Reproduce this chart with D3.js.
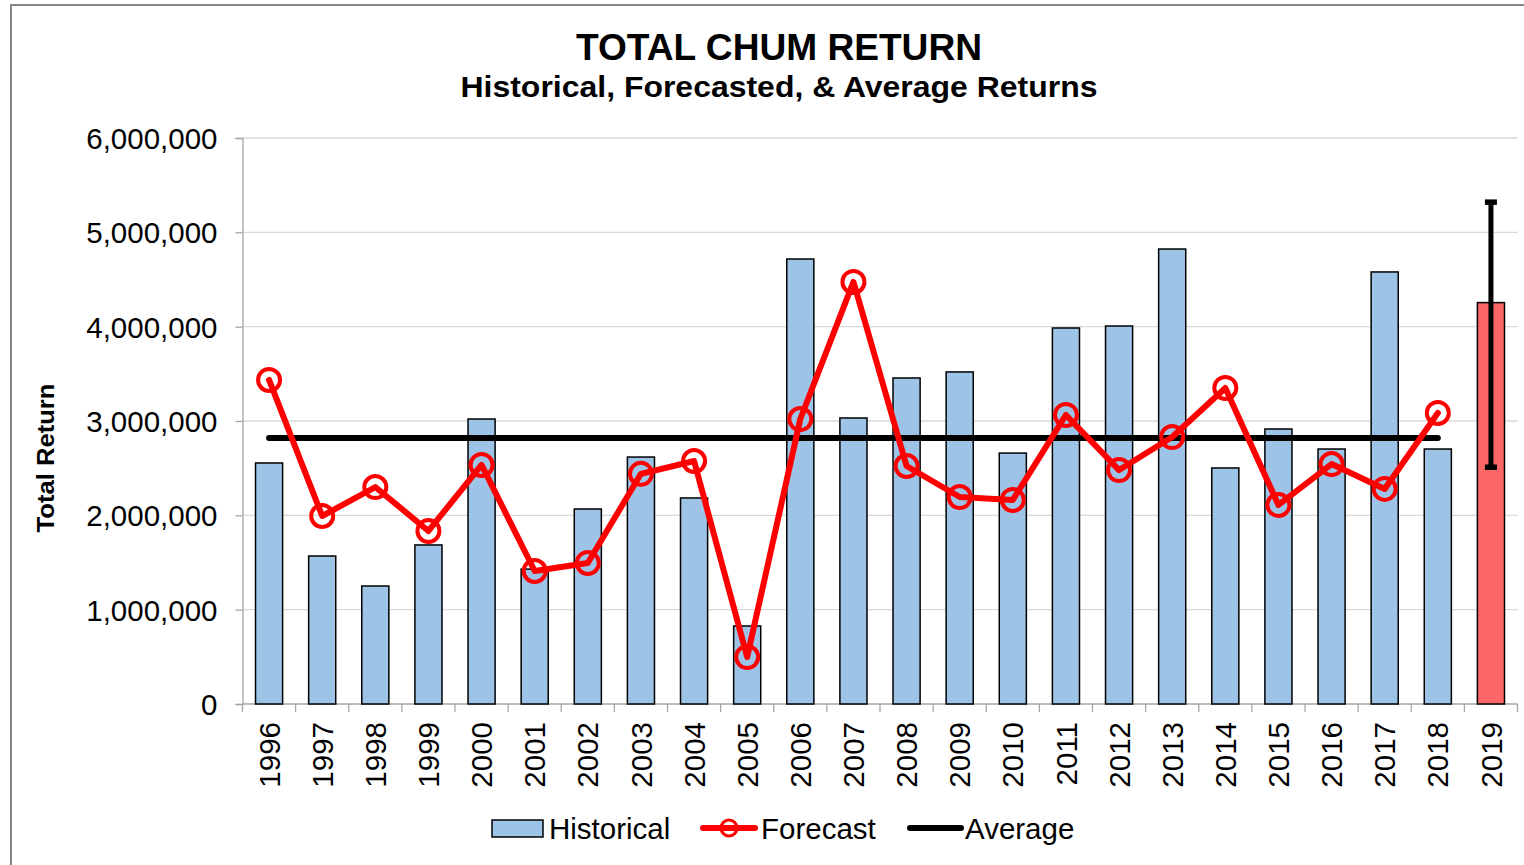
<!DOCTYPE html>
<html>
<head>
<meta charset="utf-8">
<script src="https://cdn.jsdelivr.net/npm/d3@7/dist/d3.min.js"></script>
<style>
html,body{margin:0;padding:0;background:#fff;}
svg{display:block;font-family:"Liberation Sans",Arial,sans-serif;}
</style>
</head>
<body>
<svg id="chart" width="1524" height="865"></svg>
<script>
const years = ["1996","1997","1998","1999","2000","2001","2002","2003","2004","2005","2006","2007","2008","2009","2010","2011","2012","2013","2014","2015","2016","2017","2018","2019"];
const historical = [2555000,1569000,1251000,1686000,3021000,1430000,2067000,2618000,2184000,827000,4717000,3032000,3456000,3520000,2660000,3986000,4007000,4823000,2502000,2915000,2703000,4580000,2703000,4255000];
const forecastYears = ["1996","1997","1998","1999","2000","2001","2002","2003","2004","2005","2006","2007","2008","2009","2010","2011","2012","2013","2014","2015","2016","2017","2018"];
const forecast = [3435000,1993000,2300000,1834000,2534000,1410000,1495000,2440000,2576000,498000,3021000,4474000,2523000,2194000,2163000,3064000,2480000,2830000,3350000,2110000,2544000,2280000,3085000];
const averageValue = 2820000;
const averageRange = ["1996","2018"];
const errorLow = 2510000;
const errorHigh = 5320000;
const yTicks = [0,1000000,2000000,3000000,4000000,5000000,6000000];
const title = "TOTAL CHUM RETURN";
const subtitle = "Historical, Forecasted, & Average Returns";
const yLabel = "Total Return";
const legendLabels = ["Historical","Forecast","Average"];

(function(){
const svg = d3.select("#chart");
const pLeft = 242.5, pRight = 1517.5, pTop = 138, pBottom = 704;
const fs = 29.5;

const x = d3.scaleBand().domain(years).range([pLeft,pRight]).paddingInner(0.49).paddingOuter(0.245);
const y = d3.scaleLinear().domain([0,6000000]).range([pBottom,pTop]);
const cx = d => x(d) + x.bandwidth()/2;

// frame
svg.append("rect").attr("x",11).attr("y",5).attr("width",1540).attr("height",900)
  .attr("fill","none").attr("stroke","#868686").attr("stroke-width",2);

// gridlines
svg.append("g").selectAll("line").data(yTicks.filter(d=>d>0)).join("line")
  .attr("x1",pLeft).attr("x2",pRight).attr("y1",d=>y(d)).attr("y2",d=>y(d))
  .attr("stroke","#d9d9d9").attr("stroke-width",1.3);

// y axis
const yAxis = d3.axisLeft(y).tickValues(yTicks).tickSize(7).tickPadding(18).tickFormat(d3.format(","));
const gy = svg.append("g").attr("transform",`translate(${pLeft},0)`).call(yAxis);
gy.select(".domain").attr("stroke","#a6a6a6").attr("stroke-width",1.3);
gy.selectAll(".tick line").attr("stroke","#a6a6a6").attr("stroke-width",1.3);
gy.selectAll("text").attr("font-size",fs).attr("fill","#000").attr("font-family","Liberation Sans, Arial, sans-serif").attr("dy","0.36em");

// x axis ticks at boundaries
const step = x.step();
const bounds = d3.range(years.length+1).map(i => pLeft + i*step);
svg.append("g").selectAll("line").data(bounds).join("line")
  .attr("x1",d=>d).attr("x2",d=>d).attr("y1",pBottom).attr("y2",pBottom+8)
  .attr("stroke","#a6a6a6").attr("stroke-width",1.3);
svg.append("line").attr("x1",pLeft).attr("x2",pRight).attr("y1",pBottom).attr("y2",pBottom)
  .attr("stroke","#a6a6a6").attr("stroke-width",1.3);

// x labels
svg.append("g").selectAll("text").data(years).join("text")
  .attr("transform",d=>`translate(${cx(d)},${pBottom+18}) rotate(-90)`)
  .attr("text-anchor","end").attr("dy","0.36em")
  .attr("font-size",fs).attr("fill","#000").text(d=>d);

// bars
svg.append("g").selectAll("rect").data(years).join("rect")
  .attr("x",d=>x(d)).attr("width",x.bandwidth())
  .attr("y",(d,i)=>y(historical[i])).attr("height",(d,i)=>pBottom-y(historical[i]))
  .attr("fill",(d,i)=> i===years.length-1 ? "#ff6666" : "#9dc3e6")
  .attr("stroke","#000").attr("stroke-width",1.5);

// error bar for last year
const ey = years[years.length-1];
const eg = svg.append("g");
eg.append("line").attr("x1",cx(ey)).attr("x2",cx(ey)).attr("y1",y(errorHigh)).attr("y2",y(errorLow))
  .attr("stroke","#000").attr("stroke-width",5);
[errorHigh,errorLow].forEach(v=>{
  eg.append("line").attr("x1",cx(ey)-6).attr("x2",cx(ey)+6).attr("y1",y(v)).attr("y2",y(v))
    .attr("stroke","#000").attr("stroke-width",5.5);
});

// average line
svg.append("line").attr("x1",cx(averageRange[0])).attr("x2",cx(averageRange[1]))
  .attr("y1",y(averageValue)).attr("y2",y(averageValue))
  .attr("stroke","#000").attr("stroke-width",6).attr("stroke-linecap","round");

// forecast line
const line = d3.line().x((d,i)=>cx(forecastYears[i])).y(d=>y(d));
svg.append("path").datum(forecast).attr("d",line).attr("fill","none")
  .attr("stroke","#ff0000").attr("stroke-width",6).attr("stroke-linejoin","round").attr("stroke-linecap","round");
svg.append("g").selectAll("circle").data(forecast).join("circle")
  .attr("cx",(d,i)=>cx(forecastYears[i])).attr("cy",d=>y(d)).attr("r",11)
  .attr("fill","none").attr("stroke","#ff0000").attr("stroke-width",4);

// titles
svg.append("text").attr("x",779).attr("y",60).attr("text-anchor","middle")
  .attr("font-size",37).attr("font-weight","bold").attr("fill","#000")
  .attr("textLength",406).attr("lengthAdjust","spacingAndGlyphs").text(title);
svg.append("text").attr("x",779).attr("y",97).attr("text-anchor","middle")
  .attr("font-size",29).attr("font-weight","bold").attr("fill","#000")
  .attr("textLength",637).attr("lengthAdjust","spacingAndGlyphs").text(subtitle);

// y label
svg.append("text").attr("transform","translate(54,458) rotate(-90)")
  .attr("text-anchor","middle").attr("font-size",24).attr("font-weight","bold").attr("fill","#000")
  .attr("textLength",149).attr("lengthAdjust","spacingAndGlyphs").text(yLabel);

// legend
const lg = svg.append("g");
const ly = 828;
lg.append("rect").attr("x",492).attr("y",ly-8).attr("width",51).attr("height",17)
  .attr("fill","#9dc3e6").attr("stroke","#000").attr("stroke-width",1.5);
lg.append("text").attr("x",549).attr("y",ly).attr("dy","0.36em").attr("font-size",fs).text(legendLabels[0]);
lg.append("line").attr("x1",703).attr("x2",755).attr("y1",ly).attr("y2",ly)
  .attr("stroke","#ff0000").attr("stroke-width",6).attr("stroke-linecap","round");
lg.append("circle").attr("cx",729).attr("cy",ly).attr("r",8).attr("fill","none")
  .attr("stroke","#ff0000").attr("stroke-width",3);
lg.append("text").attr("x",761).attr("y",ly).attr("dy","0.36em").attr("font-size",fs).text(legendLabels[1]);
lg.append("line").attr("x1",910).attr("x2",961).attr("y1",ly).attr("y2",ly)
  .attr("stroke","#000").attr("stroke-width",6).attr("stroke-linecap","round");
lg.append("text").attr("x",965).attr("y",ly).attr("dy","0.36em").attr("font-size",fs).text(legendLabels[2]);
})();
</script>
</body>
</html>
